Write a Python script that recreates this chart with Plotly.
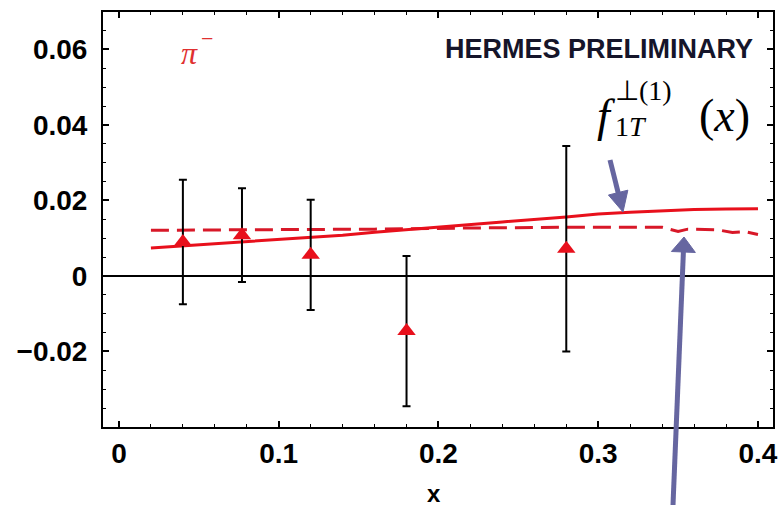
import math
import plotly.graph_objects as go

# HERMES pi- measurement
x_pts = [0.040, 0.077, 0.120, 0.180, 0.280]
y_pts = [0.0090, 0.0108, 0.0056, -0.0146, 0.0072]
y_err = [0.0165, 0.0124, 0.0146, 0.0199, 0.0272]

# model curve with f_1T^perp(1)(x)
x_solid = [0.02, 0.06, 0.10, 0.14, 0.16, 0.20, 0.24, 0.28, 0.30, 0.32, 0.34, 0.36, 0.38, 0.40]
y_solid = [0.0074, 0.0085, 0.0096, 0.0108, 0.0116, 0.0130, 0.0143, 0.0156, 0.0164, 0.0169,
           0.0173, 0.0176, 0.0177, 0.0178]

# alternative model curve (dashed)
x_dash = [0.02, 0.10, 0.16, 0.22, 0.28, 0.34, 0.345, 0.35, 0.356, 0.368, 0.375, 0.384, 0.392, 0.40]
y_dash = [0.0121, 0.0122, 0.0124, 0.0127, 0.0129, 0.0129, 0.0124, 0.0118, 0.0124, 0.0124,
          0.0122, 0.0115, 0.0117, 0.0110]

x_ticks = [0, 0.1, 0.2, 0.3, 0.4]
x_ticktext = ["0", "0.1", "0.2", "0.3", "0.4"]
y_ticks = [-0.02, 0, 0.02, 0.04, 0.06]
y_ticktext = ["\u22120.02", "0", "0.02", "0.04", "0.06"]

W, H = 782, 510
ML, MR, MT, MB = 103, 9, 12, 83
PW, PH = W - ML - MR, H - MT - MB

RED = "#e8101c"
ARROW = "#6666a0"
SANS = "Liberation Sans"
SERIF = "Liberation Serif"


def px(xp):
    return (xp - ML) / PW


def py(yp):
    return (H - MB - yp) / PH


def arrow_shapes(tip_x, tip_y, dx_tail, dy_tail, head_len, head_half, width):
    """Shaft + filled head, in pixel offsets (y up) from a tip given in paper units."""
    length = math.hypot(dx_tail, dy_tail)
    ux, uy = -dx_tail / length, -dy_tail / length
    nx, ny = -uy, ux
    bx, by = -head_len * ux, -head_len * uy
    common = dict(xref="paper", yref="paper", xsizemode="pixel", ysizemode="pixel",
                  xanchor=tip_x, yanchor=tip_y, layer="above")
    shaft = dict(type="path",
                 path=f"M{dx_tail:.2f},{dy_tail:.2f} L{bx + ux * 2:.2f},{by + uy * 2:.2f}",
                 line=dict(color=ARROW, width=width), **common)
    head = dict(type="path",
                path=(f"M0,0 L{bx + head_half * nx:.2f},{by + head_half * ny:.2f} "
                      f"L{bx - head_half * nx:.2f},{by - head_half * ny:.2f} Z"),
                fillcolor=ARROW, line=dict(color=ARROW, width=1), **common)
    return [shaft, head]


fig = go.Figure()

fig.add_trace(go.Scatter(x=x_dash, y=y_dash, mode="lines",
                         line=dict(color="#d81828", width=3, dash="18px,8px"),
                         hoverinfo="skip", showlegend=False))
fig.add_trace(go.Scatter(x=x_solid, y=y_solid, mode="lines",
                         line=dict(color=RED, width=3),
                         hoverinfo="skip", showlegend=False))
fig.add_trace(go.Scatter(x=x_pts, y=y_pts, mode="markers",
                         marker=dict(symbol="triangle-up", size=16, color=RED),
                         error_y=dict(type="data", array=y_err, color="black",
                                      thickness=2, width=4),
                         showlegend=False))

axis_common = dict(showline=True, linecolor="black", linewidth=2, mirror="ticks",
                   ticks="inside", ticklen=6, tickwidth=1.5, tickcolor="black",
                   showgrid=False, automargin=False,
                   tickfont=dict(family=SANS, size=28, color="black", weight="bold"))

fig.update_xaxes(range=[-0.0100, 0.4094], tickmode="array", tickvals=x_ticks,
                 ticktext=x_ticktext, zeroline=False,
                 minor=dict(dtick=0.02, tick0=0, ticks="inside", ticklen=3,
                            tickcolor="black", tickwidth=1.2),
                 **axis_common)
fig.update_yaxes(range=[-0.0400, 0.0699], tickmode="array", tickvals=y_ticks,
                 ticktext=y_ticktext, zeroline=True, zerolinecolor="black",
                 zerolinewidth=1.5, ticklabelstandoff=8,
                 minor=dict(dtick=0.005, tick0=0, ticks="inside", ticklen=3,
                            tickcolor="black", tickwidth=1.2),
                 **axis_common)

annotations = [
    dict(text="<b>x</b>", x=px(434), y=py(493),
         font=dict(family=SANS, size=24, color="black")),
    dict(text="<i>\u03c0</i>", x=px(189), y=py(53),
         font=dict(family=SERIF, size=32, color="#e03030")),
    dict(text="\u2212", x=px(207), y=py(38),
         font=dict(family=SERIF, size=22, color="#e03030")),
    dict(text="<b>HERMES PRELIMINARY</b>", x=px(755), y=py(49), xanchor="right",
         font=dict(family=SANS, size=27, color="#15152a")),
    dict(text="<i>f</i>", x=px(606), y=py(116),
         font=dict(family=SERIF, size=46, color="black")),
    # superscript and subscript stacked on two lines
    dict(text="\u22a5(1)<br>1<i>T</i>", x=px(613), y=py(108), xanchor="left", align="left",
         font=dict(family=SERIF, size=28, color="black")),
    dict(text="(<i>x</i>)", x=px(724), y=py(116),
         font=dict(family=SERIF, size=46, color="black")),
]
for a in annotations:
    a.setdefault("xanchor", "center")
    a.update(xref="paper", yref="paper", yanchor="middle", showarrow=False)

# arrows pointing at the two curves
shapes = []
shapes += arrow_shapes(px(623), py(212), -13, 52, 20, 10, 5)
shapes += arrow_shapes(px(684), py(237), -11, -268, 15, 12, 5)

fig.update_layout(width=W, height=H, margin=dict(l=ML, r=MR, t=MT, b=MB),
                  plot_bgcolor="white", paper_bgcolor="white",
                  annotations=annotations, shapes=shapes)

fig.write_html("out.html")
